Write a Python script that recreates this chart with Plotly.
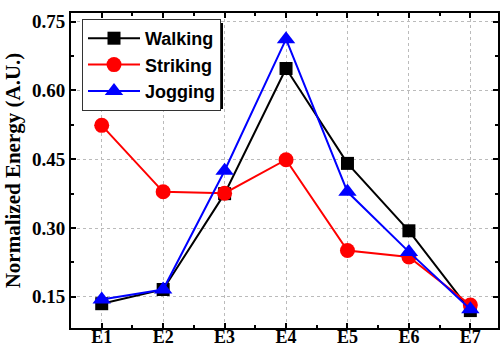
import plotly.graph_objects as go

categories = ["E1", "E2", "E3", "E4", "E5", "E6", "E7"]
walking = [0.135, 0.166, 0.375, 0.648, 0.441, 0.294, 0.12]
striking = [0.524, 0.379, 0.376, 0.449, 0.251, 0.237, 0.132]
jogging = [0.144, 0.166, 0.425, 0.712, 0.379, 0.248, 0.123]
y_ticks = [0.15, 0.30, 0.45, 0.60, 0.75]
y_ticktext = ["0.15", "0.30", "0.45", "0.60", "0.75"]

xpos = list(range(1, len(categories) + 1))

fig = go.Figure()
fig.add_trace(go.Scatter(x=xpos, y=walking, name="Walking", mode="lines+markers",
                         line=dict(color="black", width=2),
                         marker=dict(symbol="square", size=13, color="black")))
fig.add_trace(go.Scatter(x=xpos, y=striking, name="Striking", mode="lines+markers",
                         line=dict(color="#ff0000", width=2),
                         marker=dict(symbol="circle", size=15, color="#ff0000")))
fig.add_trace(go.Scatter(x=xpos, y=jogging, name="Jogging", mode="lines+markers",
                         line=dict(color="#0000ff", width=2),
                         marker=dict(symbol="triangle-up", size=16, color="#0000ff")))

# plot area: l=71, r=3, t=13, b=19 -> 427 x 315 px
PW, PH = 427.0, 315.0
def px_x(x):
    return (x - 71) / PW
def px_y(y):
    return 1 - (y - 13) / PH

# legend drop shadow (paper coordinates)
fig.add_shape(type="rect", xref="paper", yref="paper",
              x0=px_x(86), x1=px_x(223), y0=px_y(109), y1=px_y(23),
              fillcolor="black", line=dict(width=0), layer="above")

fig.update_layout(
    width=501, height=347,
    margin=dict(l=71, r=3, t=13, b=19),
    paper_bgcolor="white", plot_bgcolor="white",
    showlegend=True,
    legend=dict(x=px_x(82), y=px_y(19), xanchor="left", yanchor="top",
                bgcolor="white", bordercolor="#333333", borderwidth=1,
                font=dict(family="Liberation Sans", size=18, color="black", weight="bold"),
                tracegroupgap=0, itemwidth=52),
    xaxis=dict(range=[0.5, 7.45], tickvals=xpos, ticktext=categories, automargin=False,
               showline=True, linecolor="black", linewidth=2, mirror="allticks",
               ticks="inside", ticklen=5, tickwidth=1.5, tickcolor="black",
               showgrid=True, gridcolor="#bbbbbb", griddash="dot", gridwidth=1,
               zeroline=False, ticklabelstandoff=-9,
               tickfont=dict(family="Liberation Serif", size=18, color="black", weight="bold"),
               minor=dict(dtick=0.5, tick0=0.5, ticks="inside", ticklen=3, tickcolor="black", showgrid=False)),
    yaxis=dict(range=[0.082, 0.769], tickvals=y_ticks, ticktext=y_ticktext, automargin=False,
               showline=True, linecolor="black", linewidth=2, mirror="allticks",
               ticks="inside", ticklen=5, tickwidth=1.5, tickcolor="black",
               showgrid=True, gridcolor="#bbbbbb", griddash="dot", gridwidth=1,
               zeroline=False,
               tickfont=dict(family="Liberation Serif", size=19, color="black", weight="bold"),
               title=dict(text="Normalized Energy (A.U.)", standoff=6,
                          font=dict(family="Liberation Serif", size=21, color="black", weight="bold")),
               minor=dict(dtick=0.075, tick0=0.075, ticks="inside", ticklen=3, tickcolor="black", showgrid=False)),
)

fig.write_html("out.html")
